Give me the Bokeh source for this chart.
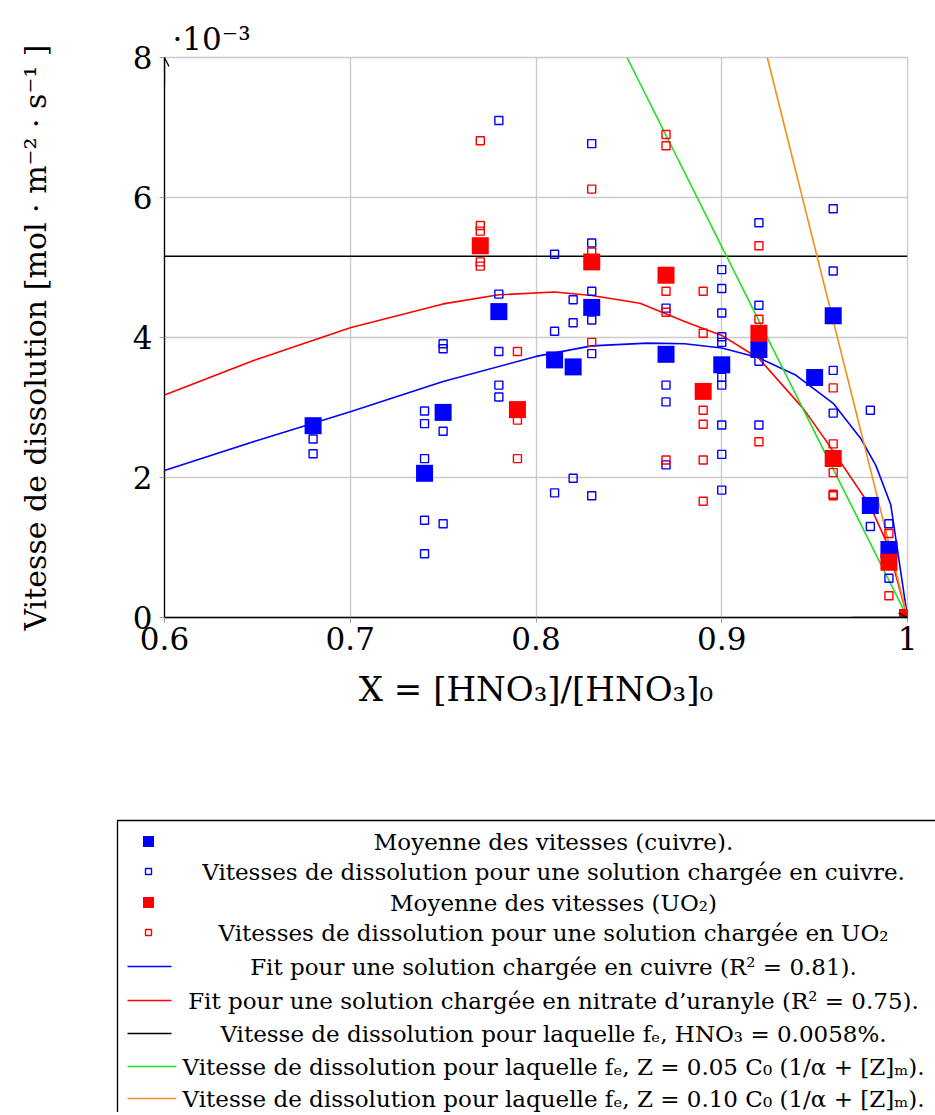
from bokeh.plotting import figure
from bokeh.models import (FixedTicker, CustomJSTickFormatter, Arrow, OpenHead, Range1d)
from bokeh.embed import file_html
from bokeh.resources import INLINE
from bokeh.core.properties import value

# ---------------- data ----------------
x_ticks = [0.6, 0.7, 0.8, 0.9, 1.0]
y_ticks = [0, 2, 4, 6, 8]

# mean dissolution rates, copper-loaded solution (x 1e-3)
cu_mean_x = [0.68, 0.74, 0.75, 0.78, 0.81, 0.82, 0.83, 0.87, 0.90, 0.92, 0.95, 0.96, 0.98, 0.99, 1.00]
cu_mean_y = [2.74, 2.06, 2.93, 4.37, 3.68, 3.58, 4.43, 3.76, 3.61, 3.83, 3.43, 4.31, 1.60, 0.97, 0.00]

# individual rates, copper-loaded solution
cu_pts_x = [0.68, 0.68,
            0.74, 0.74, 0.74, 0.74, 0.74,
            0.75, 0.75, 0.75, 0.75,
            0.78, 0.78, 0.78, 0.78, 0.78,
            0.81, 0.81, 0.81,
            0.82, 0.82, 0.82,
            0.83, 0.83, 0.83, 0.83, 0.83, 0.83,
            0.87, 0.87, 0.87, 0.87,
            0.90, 0.90, 0.90, 0.90, 0.90, 0.90, 0.90, 0.90, 0.90, 0.90,
            0.92, 0.92, 0.92, 0.92,
            0.96, 0.96, 0.96, 0.96,
            0.98, 0.98,
            0.99, 0.99]
cu_pts_y = [2.55, 2.34,
            2.95, 2.77, 2.27, 1.39, 0.91,
            3.91, 3.84, 2.66, 1.34,
            7.10, 4.62, 3.80, 3.32, 3.15,
            5.19, 4.09, 1.78,
            4.54, 4.21, 1.99,
            6.77, 5.35, 4.66, 4.25, 3.77, 1.74,
            4.42, 3.32, 3.08, 2.18,
            4.97, 4.70, 4.35, 4.01, 3.93, 3.43, 3.32, 2.75, 2.33, 1.82,
            5.64, 4.46, 3.66, 2.75,
            5.84, 4.95, 3.53, 2.92,
            2.96, 1.30,
            1.34, 0.56]

# mean dissolution rates, UO2-loaded solution
uo2_mean_x = [0.77, 0.79, 0.83, 0.87, 0.89, 0.92, 0.96, 0.99, 1.00]
uo2_mean_y = [5.31, 2.97, 5.08, 4.89, 3.23, 4.06, 2.27, 0.79, 0.00]

# individual rates, UO2-loaded solution
uo2_pts_x = [0.77, 0.77, 0.77, 0.77, 0.77,
             0.79, 0.79, 0.79,
             0.83, 0.83, 0.83,
             0.87, 0.87, 0.87, 0.87, 0.87,
             0.89, 0.89, 0.89, 0.89, 0.89, 0.89,
             0.92, 0.92, 0.92,
             0.96, 0.96, 0.96, 0.96, 0.96,
             0.99, 0.99]
uo2_pts_y = [6.81, 5.60, 5.52, 5.08, 5.02,
             3.80, 2.82, 2.27,
             6.12, 5.22, 3.93,
             6.90, 6.74, 4.66, 4.36, 2.25,
             4.66, 4.06, 2.96, 2.76, 2.25, 1.66,
             5.31, 4.26, 2.51,
             3.28, 2.48, 2.07, 1.76, 1.74,
             1.20, 0.31]

# fitted curves
fit_cu_x = [0.60, 0.65, 0.70, 0.75, 0.80, 0.83, 0.86, 0.88, 0.90, 0.92, 0.94, 0.96, 0.975, 0.983, 0.991, 1.00]
fit_cu_y = [2.10, 2.53, 2.94, 3.37, 3.73, 3.88, 3.92, 3.91, 3.85, 3.71, 3.46, 3.06, 2.55, 2.17, 1.61, 0.00]

fit_uo2_x = [0.60, 0.65, 0.70, 0.75, 0.78, 0.81, 0.83, 0.856, 0.88, 0.90, 0.92, 0.944, 0.956, 0.98, 0.989, 1.00]
fit_uo2_y = [3.18, 3.69, 4.14, 4.48, 4.61, 4.65, 4.60, 4.49, 4.23, 4.03, 3.70, 2.98, 2.53, 1.59, 1.06, 0.00]

# reference rates
hno3_x = [0.6, 1.0]
hno3_y = [5.16, 5.16]
z005_x = [0.849, 1.0]
z005_y = [8.0, 0.0]
z010_x = [0.9245, 1.0]
z010_y = [8.0, 0.0]

legend_labels = [
    "Moyenne des vitesses (cuivre).",
    "Vitesses de dissolution pour une solution chargée en cuivre.",
    "Moyenne des vitesses (UO₂)",
    "Vitesses de dissolution pour une solution chargée en UO₂",
    "Fit pour une solution chargée en cuivre (R² = 0.81).",
    "Fit pour une solution chargée en nitrate d’uranyle (R² = 0.75).",
    "Vitesse de dissolution pour laquelle fₑ, HNO₃ = 0.0058%.",
    "Vitesse de dissolution pour laquelle fₑ, Z = 0.05 C₀ (1/α + [Z]ₘ).",
    "Vitesse de dissolution pour laquelle fₑ, Z = 0.10 C₀ (1/α + [Z]ₘ).",
]

# ---------------- styles ----------------
BLUE = "#0000ff"
RED = "#ff0000"
GREEN = "#1ee01e"
ORANGE = "#f39019"
FONT = "DejaVu Serif"

# ---------------- main chart ----------------
p = figure(width=935, height=808, x_range=Range1d(0.6, 1.0), y_range=Range1d(0, 8),
           output_backend="svg", toolbar_location=None,
           min_border_left=164, min_border_right=28, min_border_top=57, min_border_bottom=191)
p.outline_line_color = "#cccccc"
p.outline_line_width = 1.4

p.title.text = "·10⁻³"
p.title.text_font = FONT
p.title.text_font_size = "31px"
p.title.text_font_style = "normal"
p.title.text_color = "black"
p.title.offset = 8
p.title.standoff = 2

p.xaxis.ticker = FixedTicker(ticks=x_ticks)
p.yaxis.ticker = FixedTicker(ticks=y_ticks)
p.xaxis.formatter = CustomJSTickFormatter(code="return (Math.round(tick*10)/10).toString()")
for ax in (p.xaxis[0], p.yaxis[0]):
    ax.major_label_text_font = FONT
    ax.major_label_text_font_size = "31px"
    ax.major_label_text_color = "black"
    ax.axis_label_text_font = FONT
    ax.axis_label_text_font_style = "normal"
    ax.axis_label_text_color = "black"
    ax.axis_line_color = "black"
    ax.axis_line_width = 1.3
    ax.major_tick_line_color = "#999999"
    ax.major_tick_in = 0
    ax.major_tick_out = 5
    ax.minor_tick_line_color = None

p.xaxis.axis_label = "X = [HNO₃]/[HNO₃]₀"
p.xaxis.axis_label_text_font_size = "34px"
p.xaxis.major_label_standoff = 4
p.xaxis.axis_label_standoff = 16
p.yaxis.axis_label = "Vitesse de dissolution [mol · m⁻² · s⁻¹ ]"
p.yaxis.axis_label_text_font_size = "30px"
p.yaxis.major_label_standoff = 7
p.yaxis.axis_label_standoff = 77

p.grid.grid_line_color = "#cccccc"
p.grid.grid_line_width = 1.4

# lines
p.line(fit_cu_x, fit_cu_y, line_color=BLUE, line_width=1.6)
p.line(fit_uo2_x, fit_uo2_y, line_color=RED, line_width=1.6)
p.line(hno3_x, hno3_y, line_color="black", line_width=1.6)
p.line(z005_x, z005_y, line_color=GREEN, line_width=1.6)
p.line(z010_x, z010_y, line_color=ORANGE, line_width=1.6)

# points
p.scatter(cu_pts_x, cu_pts_y, marker="square", size=8, fill_color=None, line_color=BLUE, line_width=1.4)
p.scatter(cu_mean_x, cu_mean_y, marker="square", size=17, fill_color=BLUE, line_color=None)
p.scatter(uo2_pts_x, uo2_pts_y, marker="square", size=8, fill_color=None, line_color=RED, line_width=1.4)
p.scatter(uo2_mean_x, uo2_mean_y, marker="square", size=17, fill_color=RED, line_color=None)

# axis arrow heads
p.add_layout(Arrow(end=OpenHead(size=9, line_width=1.3, line_color="black"),
                   x_start=0.97, y_start=0, x_end=1.0, y_end=0,
                   line_color="black", line_width=1.3))
p.add_layout(Arrow(end=OpenHead(size=9, line_width=1.3, line_color="black"),
                   x_start=0.6, y_start=7.6, x_end=0.6, y_end=8.0,
                   line_color="black", line_width=1.3))

# ---------------- legend (separate root below the chart) ----------------
LW, LH = 935, 304
lg = figure(width=LW, height=LH, x_range=Range1d(0, LW), y_range=Range1d(LH, 0),
            output_backend="svg", toolbar_location=None,
            x_axis_location=None, y_axis_location=None,
            min_border_left=0, min_border_right=0, min_border_top=0, min_border_bottom=0)
lg.grid.visible = False
lg.outline_line_color = None

rows_y = [33, 63, 94, 124, 158, 192, 225, 258, 290]
lg.quad(left=[117], right=[1200], top=[12], bottom=[600], fill_color=None,
        line_color="black", line_width=1.3)
mx = 148
lg.scatter([mx], [rows_y[0]], marker="square", size=11, fill_color=BLUE, line_color=None)
lg.scatter([mx], [rows_y[1]], marker="square", size=6, fill_color=None, line_color=BLUE, line_width=1.4)
lg.scatter([mx], [rows_y[2]], marker="square", size=11, fill_color=RED, line_color=None)
lg.scatter([mx], [rows_y[3]], marker="square", size=6, fill_color=None, line_color=RED, line_width=1.4)
seg_colors = [BLUE, RED, "black", GREEN, ORANGE]
seg_right = [171, 171, 171, 176, 176]
lg.segment(x0=[127] * 5, y0=rows_y[4:], x1=seg_right, y1=rows_y[4:],
           line_color=seg_colors, line_width=1.4)
lg.text(x=[553] * len(legend_labels), y=rows_y, text=legend_labels,
        text_font=value(FONT), text_font_size="23px", text_align="center",
        text_baseline="middle", text_color="black")

open("out.html", "w").write(file_html([p, lg], INLINE))
